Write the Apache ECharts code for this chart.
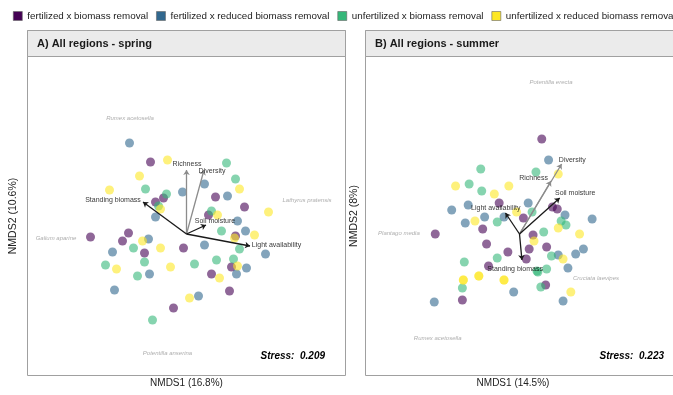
<!DOCTYPE html>
<html><head><meta charset="utf-8">
<script src="https://cdn.jsdelivr.net/npm/echarts@6/dist/echarts.min.js"></script>
<style>html,body{margin:0;padding:0;background:#fff}#c{width:673px;height:395px}</style>
</head><body><div id="c"></div>
<script>
// ---------- data ----------
const groupNames = ['fertilized x biomass removal','fertilized x reduced biomass removal','unfertilized x biomass removal','unfertilized x reduced biomass removal'];
const groupColors = ['#440154','#31688E','#35B779','#FDE725'];

// Panel A: spring NMDS scores
const springFertRemoval = [[-0.36,0.54],[-0.31,0.14],[-0.23,0.18],[0.29,0.19],[0.58,0.09],[0.22,0.01],[0.49,-0.20],[-0.96,-0.21],[-0.58,-0.17],[-0.64,-0.25],[-0.42,-0.37],[-0.03,-0.32],[0.45,-0.51],[0.25,-0.58],[0.43,-0.75],[-0.13,-0.92]];
const springFertReduced = [[-0.57,0.73],[-0.04,0.24],[0.18,0.32],[0.41,0.20],[-0.31,-0.01],[0.51,-0.05],[0.59,-0.15],[0.79,-0.38],[-0.38,-0.23],[-0.74,-0.36],[0.18,-0.29],[0.60,-0.52],[-0.37,-0.58],[0.50,-0.58],[-0.72,-0.74],[0.12,-0.80]];
const springUnfertRemoval = [[0.40,0.53],[0.49,0.37],[-0.41,0.27],[-0.20,0.22],[-0.28,0.10],[0.25,0.05],[0.35,-0.15],[0.53,-0.33],[-0.53,-0.32],[-0.42,-0.46],[-0.81,-0.49],[0.08,-0.48],[0.30,-0.44],[0.47,-0.43],[-0.49,-0.60],[-0.34,-1.04]];
const springUnfertReduced = [[-0.19,0.56],[-0.47,0.40],[-0.77,0.26],[0.53,0.27],[-0.26,0.07],[0.82,0.04],[0.31,0.01],[0.68,-0.19],[0.48,-0.22],[-0.44,-0.25],[-0.26,-0.32],[-0.70,-0.53],[-0.16,-0.51],[0.51,-0.50],[0.33,-0.62],[0.03,-0.82]];

// Panel B: summer NMDS scores
const summerFertRemoval = [[0.23,0.77],[-0.21,0.13],[0.34,0.09],[0.39,0.07],[0.04,-0.02],[-0.38,-0.13],[0.14,-0.19],[-0.87,-0.18],[-0.34,-0.28],[0.28,-0.31],[0.10,-0.33],[-0.12,-0.36],[0.07,-0.43],[-0.32,-0.50],[0.27,-0.69],[-0.59,-0.84]];
const summerFertReduced = [[0.30,0.56],[0.09,0.13],[-0.16,-0.01],[-0.53,0.11],[-0.70,0.06],[-0.36,-0.01],[-0.56,-0.07],[0.47,0.01],[0.75,-0.03],[0.66,-0.33],[0.58,-0.38],[0.40,-0.39],[0.50,-0.52],[-0.06,-0.76],[-0.88,-0.86],[0.45,-0.85]];
const summerUnfertRemoval = [[-0.40,0.47],[0.17,0.44],[-0.52,0.32],[-0.39,0.25],[0.13,0.04],[-0.23,-0.06],[0.43,-0.05],[0.48,-0.09],[0.25,-0.16],[0.33,-0.40],[-0.23,-0.42],[-0.57,-0.46],[0.28,-0.53],[0.19,-0.56],[0.18,-0.55],[-0.59,-0.72],[0.22,-0.71]];
const summerUnfertReduced = [[0.40,0.42],[-0.66,0.30],[-0.26,0.22],[-0.11,0.30],[-0.03,0.04],[-0.46,-0.05],[0.40,-0.12],[0.15,-0.25],[0.62,-0.18],[0.45,-0.43],[-0.58,-0.64],[-0.58,-0.64],[-0.42,-0.60],[-0.42,-0.60],[-0.16,-0.64],[-0.16,-0.64],[0.53,-0.76]];

// Environmental vectors (envfit)
const vectorOrigin = [0, -0.18];
const springVectorNames = ['Richness','Diversity','Standing biomass','Soil moisture','Light availability'];
const springVectorTips = [[0,0.46],[0.175,0.46],[-0.435,0.14],[0.195,-0.09],[0.635,-0.30]];
const springVectorLabelPos = [[0.005,0.52],[0.255,0.45],[-0.735,0.16],[0.285,-0.05],[0.90,-0.29]];
const springVectorGrey = [true,true,false,false,false];

const summerVectorNames = ['Diversity','Richness','Soil moisture','Light availability','Standing biomass'];
const summerVectorTips = [[0.435,0.52],[0.325,0.35],[0.415,0.18],[-0.145,0.03],[0.025,-0.44]];
const summerVectorLabelPos = [[0.545,0.56],[0.145,0.38],[0.575,0.23],[-0.245,0.08],[-0.045,-0.53]];
const summerVectorGrey = [true,true,false,false,false];

// Species scores
const springSpecies = ['Rumex acetosella','Lathyrus pratensis','Galium aparine','Potentilla anserina'];
const springSpeciesPos = [[-0.565,0.98],[1.205,0.16],[-1.305,-0.22],[-0.19,-1.37]];
const summerSpecies = ['Potentilla erecta','Plantago media','Cruciata laevipes','Rumex acetosella'];
const summerSpeciesPos = [[0.325,1.34],[-1.245,-0.17],[0.79,-0.62],[-0.845,-1.22]];

const panelTitles = ['A) All regions - spring','B) All regions - summer'];
const xTitles = ['NMDS1 (16.8%)','NMDS1 (14.5%)'];
const yTitles = ['NMDS2 (10.6%)','NMDS2 (8%)'];
const stressValues = ['0.209','0.223'];

// ---------- chart ----------
const FONT = '"Liberation Sans", Arial, sans-serif';
const chart = echarts.init(document.getElementById('c'), null, {renderer:'canvas'});

const panels = [
  {pts:[springFertRemoval,springFertReduced,springUnfertRemoval,springUnfertReduced], names:springVectorNames, tips:springVectorTips, lab:springVectorLabelPos, grey:springVectorGrey, sp:springSpecies, spPos:springSpeciesPos},
  {pts:[summerFertRemoval,summerFertReduced,summerUnfertRemoval,summerUnfertReduced], names:summerVectorNames, tips:summerVectorTips, lab:summerVectorLabelPos, grey:summerVectorGrey, sp:summerSpecies, spPos:summerSpeciesPos}
];
const gridLefts = [28, 366];
const PW = 317, PH = 318, PT = 57;

const grid = [], xAxis = [], yAxis = [], series = [];
panels.forEach((p, i) => {
  grid.push({left: gridLefts[i], top: PT, width: PW, height: PH});
  xAxis.push({gridIndex:i, type:'value', min:-1.585, max:1.585,
    axisLine:{show:false}, axisTick:{show:false}, axisLabel:{show:false}, splitLine:{show:false},
    name:xTitles[i], nameLocation:'middle', nameGap:3,
    nameTextStyle:{fontSize:10, color:'#222', fontFamily:FONT, verticalAlign:'top', padding: i===1 ? [0,13,0,0] : 0}});
  yAxis.push({gridIndex:i, type:'value', min:-1.59, max:1.59,
    axisLine:{show:false}, axisTick:{show:false}, axisLabel:{show:false}, splitLine:{show:false},
    name:yTitles[i], nameLocation:'middle', nameGap: i===0 ? 9 : 6,
    nameTextStyle:{fontSize:10.5, color:'#222', fontFamily:FONT}});
  p.pts.forEach((d, g) => {
    series.push({type:'scatter', name:groupNames[g], xAxisIndex:i, yAxisIndex:i, data:d,
      symbol:'circle', symbolSize:9, itemStyle:{color:groupColors[g], opacity:0.6}, z:2, silent:true});
  });
  // species text
  series.push({type:'scatter', xAxisIndex:i, yAxisIndex:i, symbolSize:0, silent:true, z:3,
    data:p.sp.map((n,k)=>({name:n, value:p.spPos[k]})),
    label:{show:true, position:'inside', formatter:'{b}', fontSize:6, fontStyle:'italic', color:'#999', fontFamily:FONT}});
  // vectors
  series.push({type:'lines', coordinateSystem:'cartesian2d', xAxisIndex:i, yAxisIndex:i, z:4, silent:true,
    symbol:['none','arrow'], symbolSize:5,
    lineStyle:{opacity:1, width:1.3},
    data:p.tips.map((t,k)=>({coords:[vectorOrigin, t], lineStyle:{color: p.grey[k] ? '#8c8c8c' : '#1a1a1a', width:1.3, opacity:1}}))});
  // vector labels
  series.push({type:'scatter', xAxisIndex:i, yAxisIndex:i, symbolSize:0, silent:true, z:5,
    data:p.names.map((n,k)=>({name:n, value:p.lab[k]})),
    label:{show:true, position:'inside', formatter:'{b}', fontSize:7, color:'#000', fontFamily:FONT}});
});

const graphic = [];
gridLefts.forEach((L, i) => {
  graphic.push({type:'rect', shape:{x:L-0.5, y:30.5, width:PW+1, height:345}, style:{fill:'none', stroke:'#a0a0a0', lineWidth:1}, z:1, silent:true});
  graphic.push({type:'rect', shape:{x:L-0.5, y:30.5, width:PW+1, height:26}, style:{fill:'#ebebeb', stroke:'#a0a0a0', lineWidth:1}, z:1, silent:true});
  graphic.push({type:'text', x:L+9, y:44, style:{text:panelTitles[i], font:'bold 11px '+FONT, fill:'#1a1a1a', textVerticalAlign:'middle'}, z:2, silent:true});
  graphic.push({type:'text', x: i===0 ? 325 : 664, y:356, style:{text:'Stress:  '+stressValues[i], font:'italic bold 10px '+FONT, fill:'#000', textAlign:'right', textVerticalAlign:'middle'}, z:6, silent:true});
});

chart.setOption({
  animation:false,
  backgroundColor:'#fff',
  legend:{data:groupNames, left:13, top:11, width:900, orient:'horizontal', icon:'rect', itemWidth:9, itemHeight:9, itemGap:8, padding:0,
    textStyle:{fontSize:9.8, color:'#222', fontFamily:FONT},
    itemStyle:{opacity:1, borderColor:'#666', borderWidth:0.6}},
  grid, xAxis, yAxis, series, graphic
});
</script>
</body></html>
